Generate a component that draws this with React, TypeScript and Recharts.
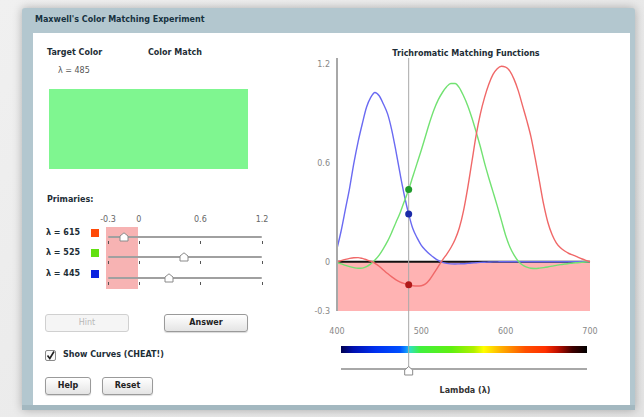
import React from 'react';
import { LineChart, Line, XAxis, YAxis, ReferenceLine, ReferenceArea, ReferenceDot } from 'recharts';

const lambdas = [
  400, 405, 410, 415, 420, 425, 430, 435, 440, 445, 450, 455, 460, 465, 470, 475, 480, 485, 490, 495,
  500, 505, 510, 515, 520, 525, 530, 535, 540, 545, 550, 555, 560, 565, 570, 575, 580, 585, 590, 595,
  600, 605, 610, 615, 620, 625, 630, 635, 640, 645, 650, 655, 660, 665, 670, 675, 680, 685, 690, 695, 700,
];

const redCurve = [
  0.0, 0.007, 0.014, 0.02, 0.024, 0.025, 0.02, 0.012, 0.003, -0.01, -0.028, -0.05, -0.072, -0.092, -0.11, -0.124, -0.133, -0.14, -0.146, -0.148,
  -0.146, -0.135, -0.108, -0.07, -0.03, 0.01, 0.045, 0.085, 0.135, 0.205, 0.31, 0.45, 0.61, 0.77, 0.9, 1.0, 1.08, 1.14, 1.175, 1.19,
  1.185, 1.16, 1.11, 1.04, 0.95, 0.86, 0.76, 0.63, 0.49, 0.35, 0.24, 0.165, 0.115, 0.085, 0.065, 0.05, 0.04, 0.03, 0.018, 0.008, 0.0,
];

const greenCurve = [
  -0.005, -0.013, -0.022, -0.03, -0.036, -0.04, -0.039, -0.03, -0.013, 0.01, 0.04, 0.08, 0.125, 0.18, 0.24, 0.3, 0.37, 0.44, 0.52, 0.6,
  0.68, 0.765, 0.85, 0.925, 0.985, 1.03, 1.065, 1.085, 1.085, 1.06, 1.01, 0.95, 0.875, 0.79, 0.7, 0.6, 0.51, 0.425, 0.34, 0.25,
  0.16, 0.09, 0.04, 0.003, -0.02, -0.033, -0.04, -0.041, -0.039, -0.036, -0.032, -0.027, -0.022, -0.018, -0.014, -0.011, -0.008, -0.006, -0.004, -0.002, -0.001,
];

const blueCurve = [
  0.08, 0.19, 0.32, 0.45, 0.6, 0.73, 0.84, 0.94, 1.0, 1.03, 1.01, 0.96, 0.9, 0.8, 0.67, 0.53, 0.4, 0.29, 0.2, 0.145,
  0.1, 0.07, 0.045, 0.025, 0.008, -0.004, -0.01, -0.013, -0.014, -0.013, -0.012, -0.01, -0.008, -0.006, -0.004, -0.003, -0.002, -0.001, -0.001, 0,
  0, 0, 0, 0, 0, 0, 0, 0, 0, 0, 0, 0, 0, 0, 0, 0, 0, 0, 0, 0, 0,
];

const targetLambda = 485;
const xTicks = [400, 500, 600, 700];
const yTicks = [-0.3, 0, 0.6, 1.2];
const sliderTicks = [-0.3, 0, 0.6, 1.2];
const primaryLabels = ['λ = 615', 'λ = 525', 'λ = 445'];
const primaryColors = ['#ff4a08', '#62e010', '#0a22e0'];
const curveColors = ['#f06868', '#72e272', '#6a6af2'];
const dotColors = ['#b01a1a', '#1f9a2c', '#1a2aa8'];

const data = lambdas.map((l, i) => ({ lambda: l, r: redCurve[i], g: greenCurve[i], b: blueCurve[i] }));
const targetIndex = lambdas.indexOf(targetLambda);
const targetValues = [redCurve[targetIndex], greenCurve[targetIndex], blueCurve[targetIndex]];

const FONT = '"DejaVu Sans", Verdana, sans-serif';

const SL_LEFT = 108;
const SL_W = 154;
const sliderX = (v: number) => SL_LEFT + ((v + 0.3) / 1.5) * SL_W;

const Text = ({ x, y, children, bold = true, color = '#1d2d36', size = 8, center = false }: any) => (
  <div
    style={{
      position: 'absolute',
      left: center ? x - 100 : x,
      width: center ? 200 : undefined,
      textAlign: center ? 'center' : 'left',
      top: y - 6,
      height: 12,
      lineHeight: '12px',
      fontSize: size,
      fontWeight: bold ? 700 : 400,
      color,
      whiteSpace: 'nowrap',
      fontFamily: FONT,
    }}
  >
    {children}
  </div>
);

const Button = ({ x, y, w, label, disabled = false }: any) => (
  <div
    style={{
      position: 'absolute',
      left: x,
      top: y,
      width: w,
      height: 18,
      boxSizing: 'border-box',
      border: disabled ? '1px solid #d0d0d0' : '1px solid #9a9a9a',
      borderRadius: 3,
      background: disabled ? '#f5f5f5' : 'linear-gradient(#ffffff, #e4e4e4)',
      boxShadow: disabled ? 'none' : '0 1px 1px rgba(0,0,0,0.15)',
      textAlign: 'center',
      lineHeight: '16px',
      fontSize: 8,
      fontWeight: disabled ? 400 : 700,
      color: disabled ? '#b8b8b8' : '#222',
      fontFamily: FONT,
    }}
  >
    {label}
  </div>
);

const Thumb = ({ cx, cy }: any) => (
  <svg style={{ position: 'absolute', left: cx - 5, top: cy - 5 }} width={10} height={10}>
    <polygon points="5,0.8 9,4 9,9 1,9 1,4" fill="#ffffff" stroke="#8a8a8a" strokeWidth={1} />
  </svg>
);

const LambdaMarker = (props: any) => {
  const { x1, y1, y2 } = props;
  const top = Math.min(y1, y2);
  const bot = Math.max(y1, y2);
  const ext = bot + 56;
  return (
    <g>
      <line x1={x1} x2={x1} y1={top} y2={ext} stroke="#a8a8a8" strokeWidth={1} />
      <polygon
        points={`${x1},${ext - 0.5} ${x1 + 4},${ext + 3} ${x1 + 4},${ext + 8} ${x1 - 4},${ext + 8} ${x1 - 4},${ext + 3}`}
        fill="#ffffff"
        stroke="#8a8a8a"
        strokeWidth={1}
      />
    </g>
  );
};

export default function App() {
  const rowY = [236, 256, 277];
  const rowLabelY = [233, 253, 274];
  return (
    <div
      style={{
        position: 'fixed',
        left: 0,
        top: 0,
        width: 644,
        height: 417,
        background: 'linear-gradient(135deg, #f0f0f0, #e4e4e4)',
        overflow: 'hidden',
        fontFamily: FONT,
      }}
    >
      <div
        style={{
          position: 'absolute',
          left: 22,
          top: 8,
          width: 613,
          height: 402,
          background: '#b3c7cf',
          borderRadius: '3px 3px 0 0',
          boxShadow: '0 0 10px rgba(0,0,0,0.28)',
        }}
      />
      <div style={{ position: 'absolute', left: 22, top: 405, width: 613, height: 5, background: '#a3b8c0' }} />
      <div style={{ position: 'absolute', left: 33, top: 33, width: 597, height: 372, background: '#ffffff' }} />

      <Text x={35} y={20} color="#17323f">Maxwell's Color Matching Experiment</Text>

      <Text x={47} y={53}>Target Color</Text>
      <Text x={148} y={53}>Color Match</Text>
      <Text x={58} y={71} bold={false} color="#555">λ = 485</Text>
      <div style={{ position: 'absolute', left: 49, top: 89, width: 199, height: 80, background: '#7ff690' }} />

      <Text x={47} y={200}>Primaries:</Text>
      {sliderTicks.map((t) => (
        <Text key={'l' + t} x={sliderX(t)} y={220} bold={false} color="#666" center>
          {String(t)}
        </Text>
      ))}
      <div style={{ position: 'absolute', left: 106, top: 227, width: 32, height: 62, background: '#f7b3b3' }} />
      {primaryLabels.map((lab, i) => (
        <React.Fragment key={lab}>
          <Text x={46} y={rowLabelY[i]}>{lab}</Text>
          <div
            style={{
              position: 'absolute',
              left: 91,
              top: rowLabelY[i] - 4,
              width: 8,
              height: 8,
              background: primaryColors[i],
            }}
          />
          <div
            style={{
              position: 'absolute',
              left: SL_LEFT,
              top: rowY[i],
              width: SL_W,
              height: 2,
              background: '#a0a0a0',
              borderRadius: 1,
            }}
          />
          {sliderTicks.map((t) => (
            <div
              key={t}
              style={{
                position: 'absolute',
                left: sliderX(t),
                top: rowY[i] + 5,
                width: 1,
                height: 3,
                background: '#555',
              }}
            />
          ))}
          <Thumb cx={sliderX(targetValues[i])} cy={rowY[i] + 1} />
        </React.Fragment>
      ))}

      <Button x={45} y={314} w={84} label="Hint" disabled />
      <Button x={164} y={314} w={84} label="Answer" />
      <div
        style={{
          position: 'absolute',
          left: 45,
          top: 350,
          width: 11,
          height: 11,
          boxSizing: 'border-box',
          border: '1px solid #8a8a8a',
          borderRadius: 2,
          background: '#fafafa',
        }}
      >
        <svg width={11} height={11} style={{ position: 'absolute', left: -1, top: -1 }}>
          <path d="M2.5,5.5 L4.8,8.5 L9,1.5" fill="none" stroke="#222" strokeWidth={1.6} />
        </svg>
      </div>
      <Text x={63} y={355}>Show Curves (CHEAT!)</Text>
      <Button x={45} y={377} w={46} label="Help" />
      <Button x={102} y={377} w={51} label="Reset" />

      <Text x={466} y={54} center>Trichromatic Matching Functions</Text>
      <div
        style={{
          position: 'absolute',
          left: 341,
          top: 346,
          width: 246,
          height: 7,
          background:
            'linear-gradient(to right, #000050 0%, #0010b0 5%, #0030f0 14%, #0050ff 24%, #1090ff 26.5%, #30e0c0 28%, #40f040 32%, #60f010 45%, #b0f000 54%, #ffff00 58%, #ffb000 65%, #ff5000 75%, #ff3000 83%, #c01000 88%, #400000 94%, #000000 100%)',
        }}
      />
      <div style={{ position: 'absolute', left: 341, top: 368, width: 246, height: 2, background: '#a8a8a8' }} />
      <Text x={465} y={391} center color="#333">Lambda (λ)</Text>

      <div style={{ position: 'absolute', left: 290, top: 40 }}>
        <LineChart width={320} height={345} data={data} margin={{ top: 18, right: 20, bottom: 44, left: 7 }}>
          <ReferenceArea x1={400} x2={700} y1={-0.3} y2={0} fill="#ffb3b3" fillOpacity={1} stroke="none" />
          <XAxis
            dataKey="lambda"
            type="number"
            domain={[400, 700]}
            ticks={xTicks}
            axisLine={false}
            tickLine={false}
            tickSize={0}
            tickMargin={17}
            height={30}
            tick={{ fill: '#888', fontSize: 8, fontFamily: FONT }}
          />
          <YAxis
            type="number"
            domain={[-0.3, 1.24]}
            ticks={yTicks}
            width={40}
            axisLine={{ stroke: '#a8a8a8', strokeWidth: 2 }}
            tickLine={false}
            tickSize={0}
            tickMargin={7}
            tick={{ fill: '#888', fontSize: 8, fontFamily: FONT }}
          />
          <ReferenceLine y={0} stroke="#111" strokeWidth={2} />
          <Line type="monotone" dataKey="b" stroke={curveColors[2]} strokeWidth={1.4} dot={false} isAnimationActive={false} />
          <Line type="monotone" dataKey="g" stroke={curveColors[1]} strokeWidth={1.4} dot={false} isAnimationActive={false} />
          <Line type="monotone" dataKey="r" stroke={curveColors[0]} strokeWidth={1.4} dot={false} isAnimationActive={false} />
          <ReferenceLine x={targetLambda} stroke="#a8a8a8" shape={LambdaMarker} />
          {targetValues.map((v, i) => (
            <ReferenceDot key={i} x={targetLambda} y={v} r={3.5} fill={dotColors[i]} stroke="none" />
          ))}
        </LineChart>
      </div>
    </div>
  );
}
